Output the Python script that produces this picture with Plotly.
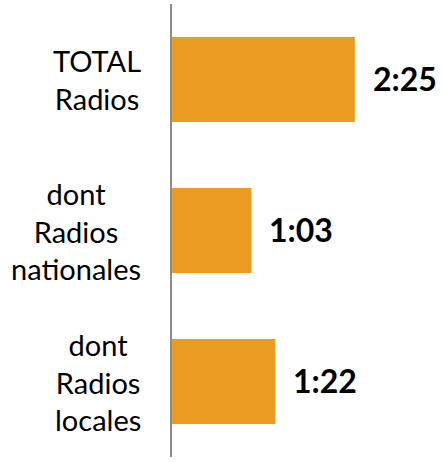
import plotly.graph_objects as go

# categories and listening time (minutes)
categories = ["TOTAL<br>Radios", "dont<br>Radios<br>nationales", "dont<br>Radios<br>locales"]
minutes = [145, 63, 82]
time_labels = ["2:25", "1:03", "1:22"]

bar_color = "#EA9B21"

fig = go.Figure()
fig.add_trace(go.Bar(
    x=minutes, y=categories, orientation="h",
    marker=dict(color=bar_color, line=dict(width=0)),
    hoverinfo="skip",
))

# value labels to the right of each bar
for m, c, t in zip(minutes, categories, time_labels):
    fig.add_annotation(x=m, y=c, text="<b>%s</b>" % t, showarrow=False,
                       xanchor="left", xshift=16, yshift=1,
                       font=dict(family="Lato", size=32, color="black"))

# category labels, centred text block to the left of the axis
for c in categories:
    fig.add_annotation(x=0, y=c, xref="paper", text=c, showarrow=False,
                       xanchor="right", align="center", xshift=-29,
                       font=dict(family="Lato", size=29, color="black"))

fig.update_layout(
    width=443, height=462,
    margin=dict(l=172, r=10, t=4, b=5),
    plot_bgcolor="white", paper_bgcolor="white",
    bargap=0.437, showlegend=False,
)
fig.update_xaxes(range=[0, 207], visible=False, fixedrange=True)
fig.update_yaxes(autorange="reversed", showticklabels=False, ticks="",
                 showgrid=False, zeroline=False,
                 showline=True, linecolor="#8C8C8C", linewidth=1.5)

# drop the browser's default page margin so the figure fills the window
fig.write_html("out.html", config={"displayModeBar": False},
               post_script="document.body.style.margin='0';")
